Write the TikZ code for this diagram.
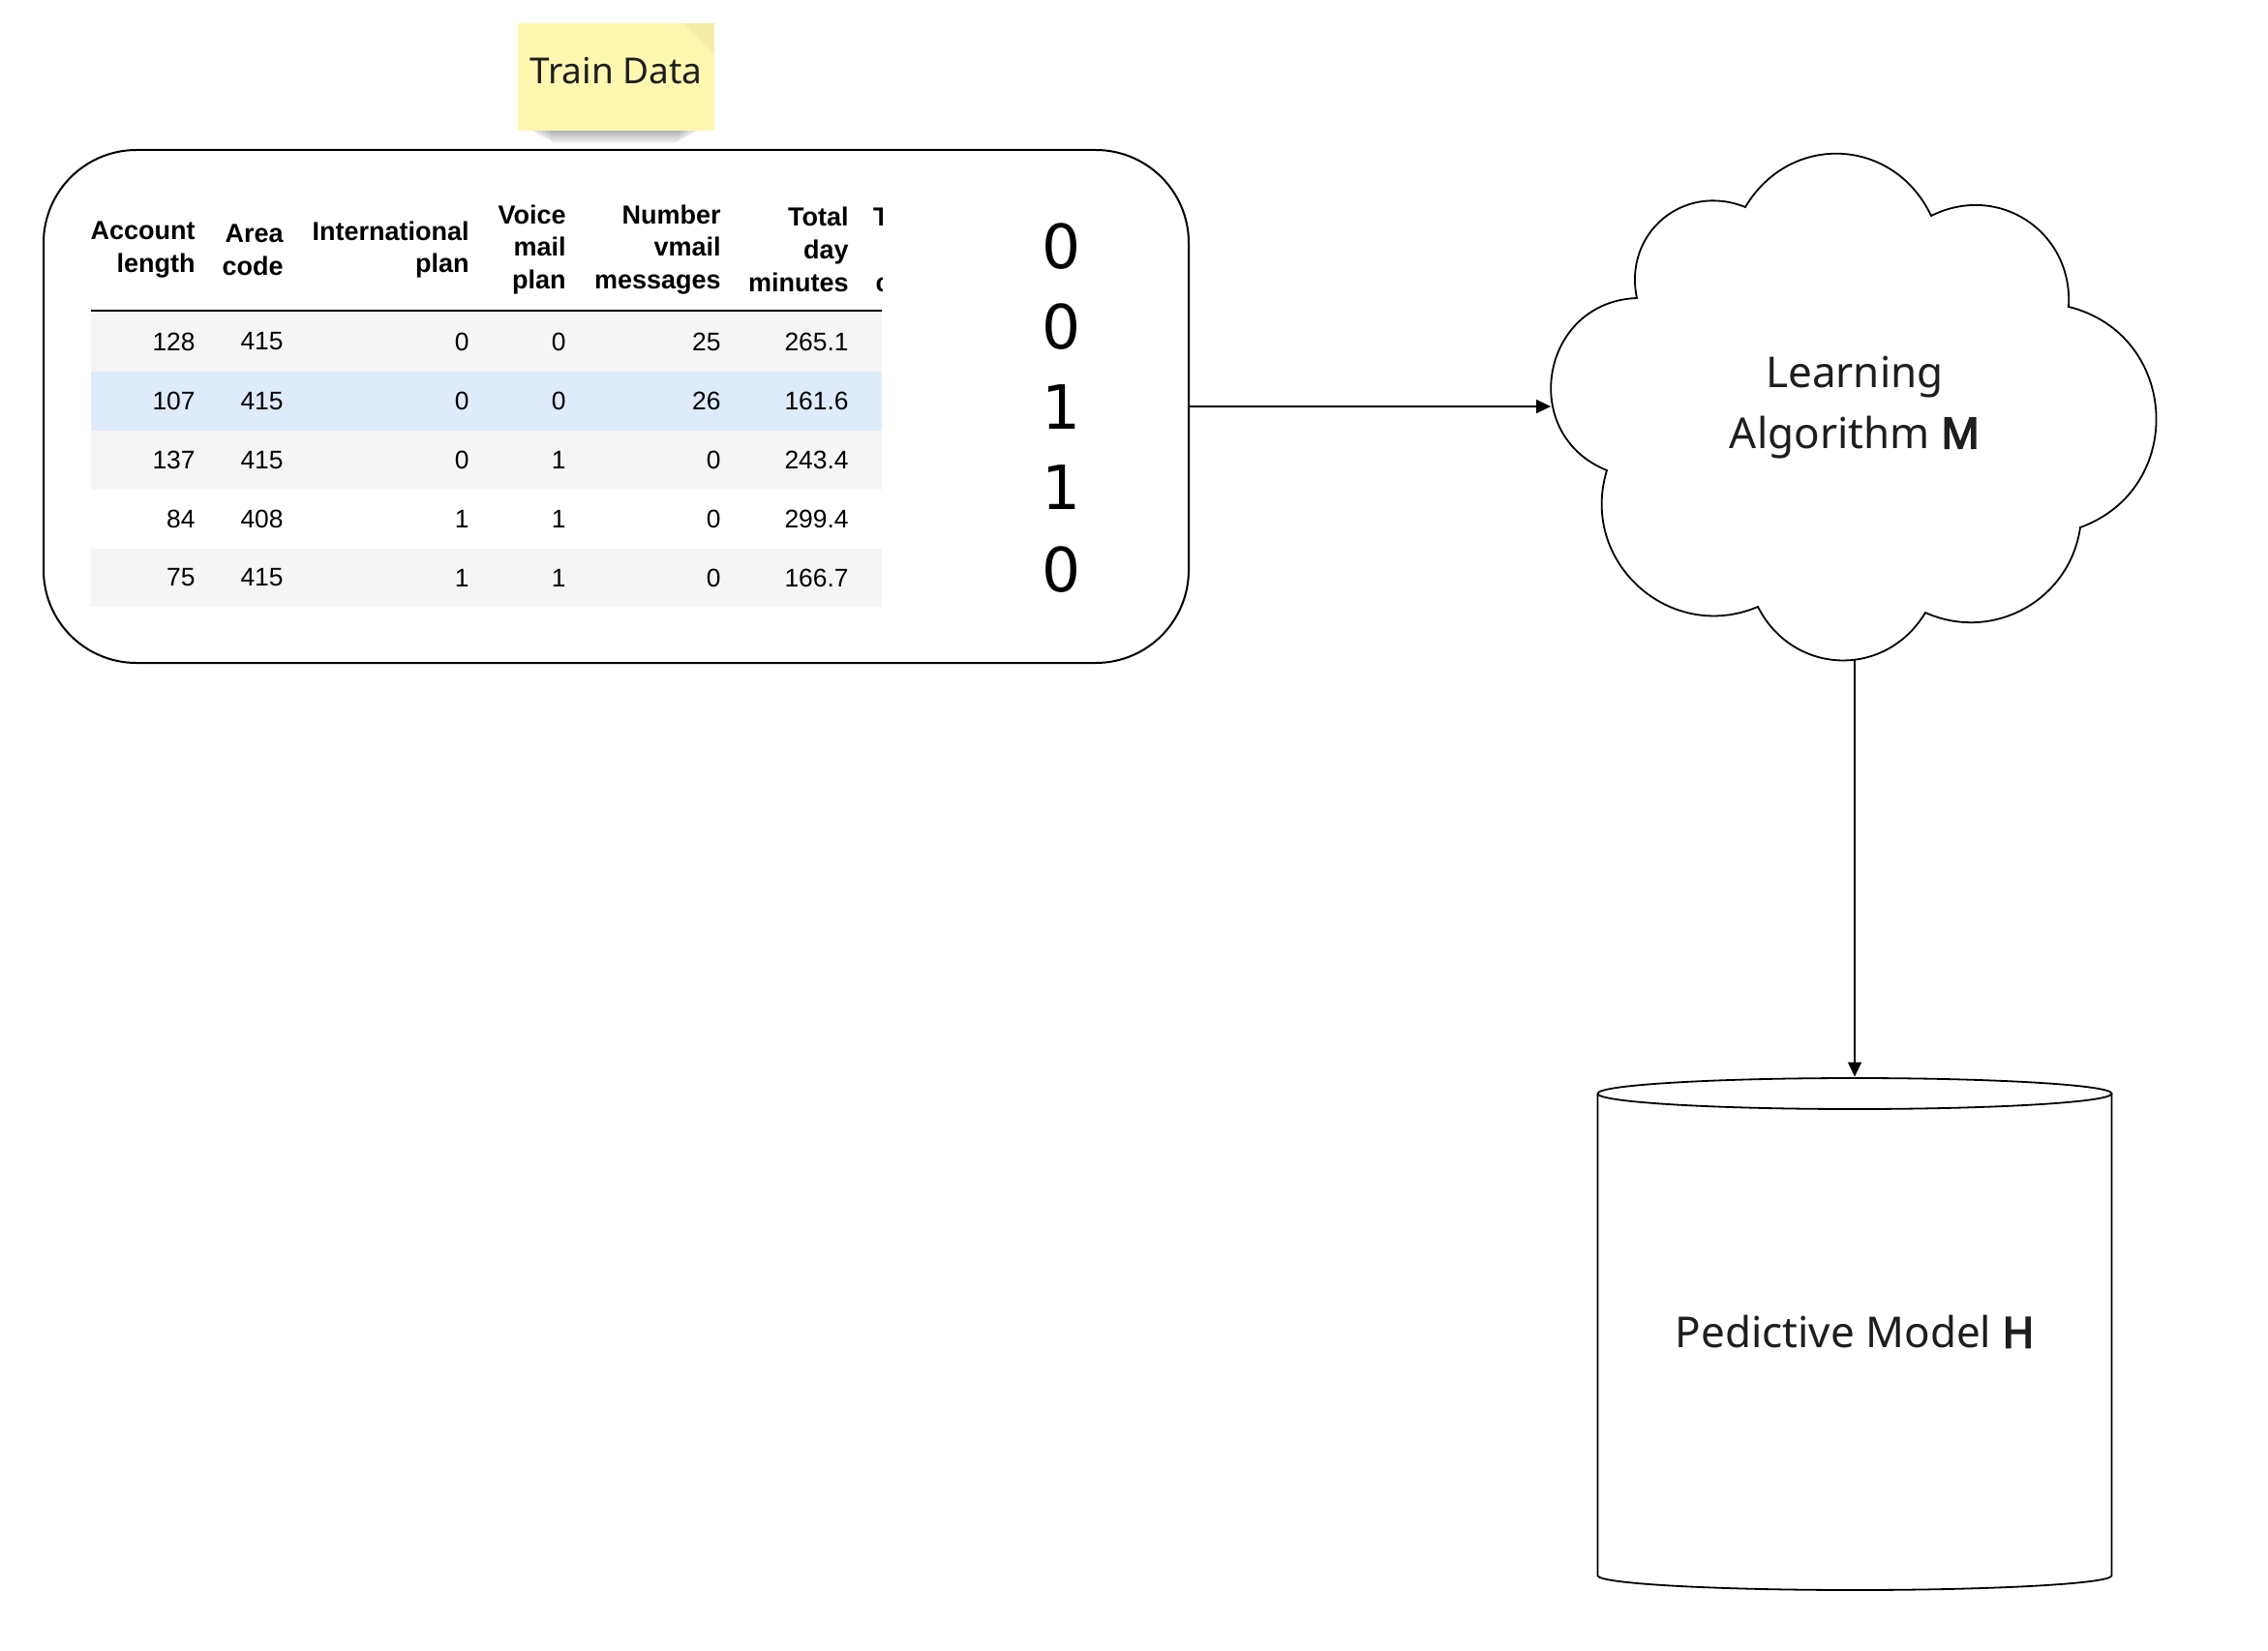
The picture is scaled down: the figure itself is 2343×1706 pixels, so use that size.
\documentclass[tikz,border=0pt]{standalone}
\usepackage{fontspec}
\setmainfont{Noto Sans}
\newfontfamily\notobold{Noto Sans}[FakeBold=3.5]
\newfontfamily\tblfont{Liberation Sans}
\newfontfamily\lblsans{DejaVu Sans}
\usetikzlibrary{arrows.meta}
\definecolor{stickyyellow}{RGB}{253,247,176}
\definecolor{rowgray}{RGB}{245,245,245}
\definecolor{rowblue}{RGB}{222,235,251}
\definecolor{inkgray}{RGB}{30,30,30}
\tikzset{
  hdr/.style={anchor=east, align=right, inner sep=0pt, font=\tblfont\bfseries\fontsize{13.5}{16.85}\selectfont},
  cell/.style={anchor=east, inner sep=0pt, font=\tblfont\fontsize{13.2}{16}\selectfont},
  lbl/.style={inner sep=0pt, font=\lblsans\fontsize{31.5}{36}\selectfont},
  conn/.style={draw=black, line width=0.7pt, -{Triangle[length=7.5pt,width=7pt]}},
  bigtext/.style={align=center, inner sep=0pt, font=\fontsize{22}{31.5}\selectfont, text=inkgray},
  outline/.style={draw=black, line width=0.9pt},
}
\begin{document}
\begin{tikzpicture}[x=0.5pt,y=-0.5pt]
\useasboundingbox (0,0) rectangle (2343,1706);

% sticky note shadow
\foreach \d in {0,1,2,3,4,5}
  \fill[black,opacity=0.055,rounded corners=3pt] (548+\d*4,126) rectangle (722-\d*4,137+\d*2.2);
% sticky note
\node[fill=stickyyellow, minimum width=101.5pt, minimum height=55.5pt, inner sep=0pt] (note) at (636.5,79.5) {};
\fill[black,opacity=0.035] (705,24) -- (738,24) -- (738,57) -- cycle;
\node[inner sep=0pt, text height=0.72em, text depth=0pt, font=\fontsize{18.5}{22}\selectfont, text=inkgray] (notelabel) at (636.5,79) {Train Data};

% data box
\node[draw=black, line width=1pt, rounded corners=48pt, minimum width=591.5pt, minimum height=265pt, inner sep=0pt] (data) at (636.5,420) {};

% table rows
\fill[rowgray] (94,322) rectangle (911,384);
\fill[rowblue] (94,384) rectangle (911,445);
\fill[rowgray] (94,445) rectangle (911,506);
\fill[rowgray] (94,567) rectangle (911,627);
\draw[line width=1.1pt] (94,321) -- (911,321);

% header
\node[hdr] (h1) at (202,258) {Account\\length};
\node[hdr] (h2) at (293,258) {Area\\code};
\node[hdr] (h3) at (485,258) {International\\plan};
\node[hdr] (h4) at (585,258) {Voice\\mail\\plan};
\node[hdr] (h5) at (745,258) {Number\\vmail\\messages};
\node[hdr] (h6) at (877,258) {Total\\day\\minutes};
\begin{scope}
  \clip (880,180) rectangle (911,318);
  \node[hdr] (h7) at (965,258) {Total\\day\\calls};
\end{scope}

% cells
\foreach \y/\a/\b/\c/\d/\e/\f [count=\i] in {
  353/128/415/0/0/25/265.1,
  414.5/107/415/0/0/26/161.6,
  475.5/137/415/0/1/0/243.4,
  536.5/84/408/1/1/0/299.4,
  597/75/415/1/1/0/166.7}{
  \node[cell] (r\i a) at (202,\y) {\a};
  \node[cell] (r\i b) at (293,\y) {\b};
  \node[cell] (r\i c) at (485,\y) {\c};
  \node[cell] (r\i d) at (585,\y) {\d};
  \node[cell] (r\i e) at (745,\y) {\e};
  \node[cell] (r\i f) at (877,\y) {\f};
}

% labels
\node[lbl] (y1) at (1097,255) {0};
\node[lbl] (y2) at (1097,338) {0};
\node[lbl] (y3) at (1097,421) {1};
\node[lbl] (y4) at (1097,504) {1};
\node[lbl] (y5) at (1097,589) {0};

% cloud
\node[minimum width=313.5pt, minimum height=260.5pt, inner sep=0pt] (cloud) at (1916,420) {};
\draw[outline, fill=white] (1803,214)
  to[bend left=62, looseness=1.2] (1995,223)
  to[bend left=60, looseness=1.17] (2137,317)
  to[bend left=73, looseness=1.32] (2149,545)
  to[bend left=53, looseness=1.07] (1989,633)
  to[bend left=61, looseness=1.18] (1816,627)
  to[bend left=65, looseness=1.2] (1660,486)
  to[bend left=78, looseness=1.41] (1691,308)
  to[bend left=62, looseness=1.2] cycle;
\node[bigtext] (cloudlabel) at (1916,421) {Learning\\Algorithm {\notobold M}};

% cylinder
\node[minimum width=265.5pt, minimum height=265.5pt, inner sep=0pt] (model) at (1916,1378.5) {};
\draw[outline] (1650.5,1130) -- (1650.5,1628)
  arc[start angle=180, end angle=0, x radius=265.5, y radius=15] -- (2181.5,1130);
\draw[outline] (1916,1130) ellipse [x radius=265.5, y radius=16];
\node[bigtext] (modellabel) at (1916,1376) {Pedictive Model {\notobold H}};

% connectors
\draw[conn] (data.east) -- (cloud.west);
\draw[conn] (cloud.south) -- (model.north);
\end{tikzpicture}
\end{document}
